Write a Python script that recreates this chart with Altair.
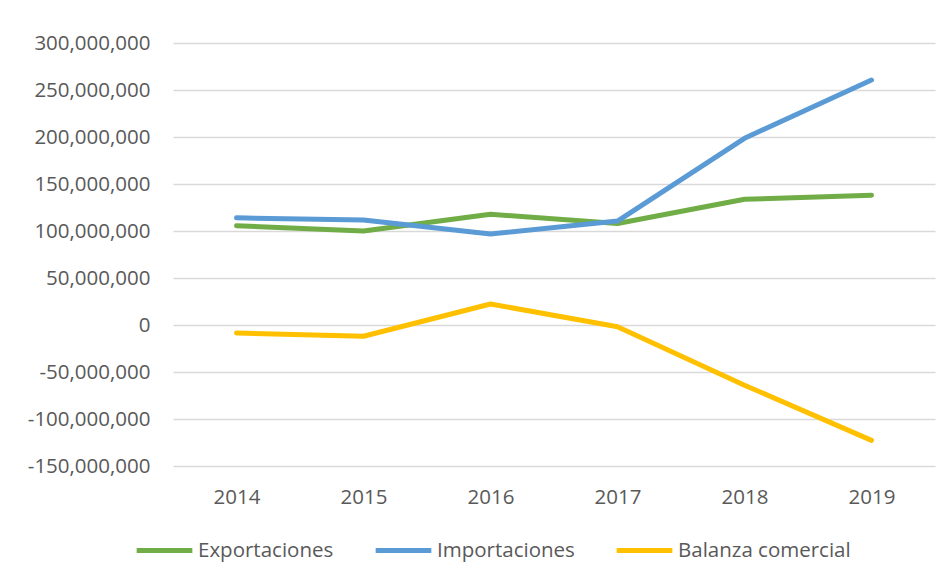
import altair as alt
import pandas as pd

years = ["2014", "2015", "2016", "2017", "2018", "2019"]
exportaciones = [105.6e6, 100.0e6, 117.8e6, 108.0e6, 133.7e6, 138.0e6]
importaciones = [114.0e6, 111.7e6, 96.8e6, 110.6e6, 198.6e6, 260.6e6]
balanza = [-8.5e6, -12.0e6, 22.3e6, -1.8e6, -64.0e6, -122.7e6]

series_names = ["Exportaciones", "Importaciones", "Balanza comercial"]
series_colors = ["#70AD47", "#5B9BD5", "#FFC000"]
y_ticks = [-150e6, -100e6, -50e6, 0, 50e6, 100e6, 150e6, 200e6, 250e6, 300e6]

rows = []
for name, vals in zip(series_names, [exportaciones, importaciones, balanza]):
    for yr, v in zip(years, vals):
        rows.append({"Año": yr, "Serie": name, "Valor": v})
df = pd.DataFrame(rows)

font = "Open Sans"
text_color = "#595959"
fs = 20.5

chart = (
    alt.Chart(df)
    .mark_line(strokeWidth=5, strokeCap="round", strokeJoin="round")
    .encode(
        x=alt.X(
            "Año:O",
            sort=years,
            title=None,
            axis=alt.Axis(
                labelAngle=0,
                domain=False,
                ticks=False,
                grid=False,
                labelFont=font,
                labelFontSize=fs,
                labelColor=text_color,
                labelPadding=21,
            ),
        ),
        y=alt.Y(
            "Valor:Q",
            title=None,
            scale=alt.Scale(domain=[-150e6, 300e6], nice=False, zero=False),
            axis=alt.Axis(
                values=y_ticks,
                labelExpr="replace(format(datum.value, ',d'), '\u2212', '-')",
                domain=False,
                ticks=False,
                grid=True,
                gridColor="#D9D9D9",
                gridWidth=1.3,
                labelFont=font,
                labelFontSize=fs,
                labelColor=text_color,
                labelPadding=23,
            ),
        ),
        color=alt.Color(
            "Serie:N",
            scale=alt.Scale(domain=series_names, range=series_colors),
            sort=series_names,
            legend=alt.Legend(
                title=None,
                orient="none",
                legendX=-39,
                legendY=477,
                direction="horizontal",
                symbolType="stroke",
                symbolSize=3100,
                symbolStrokeWidth=5,
                labelFont=font,
                labelFontSize=fs,
                labelColor=text_color,
                labelOffset=3,
                labelLimit=400,
                columnPadding=31,
            ),
        ),
    )
    .properties(
        width=762,
        height=423,
        autosize=alt.AutoSizeParams(type="none"),
        padding={"left": 165, "top": 35, "right": 8, "bottom": 116},
    )
    .configure(background="white")
    .configure_view(strokeWidth=0)
)

chart.save("out.html", embed_options={"renderer": "svg", "actions": False})
